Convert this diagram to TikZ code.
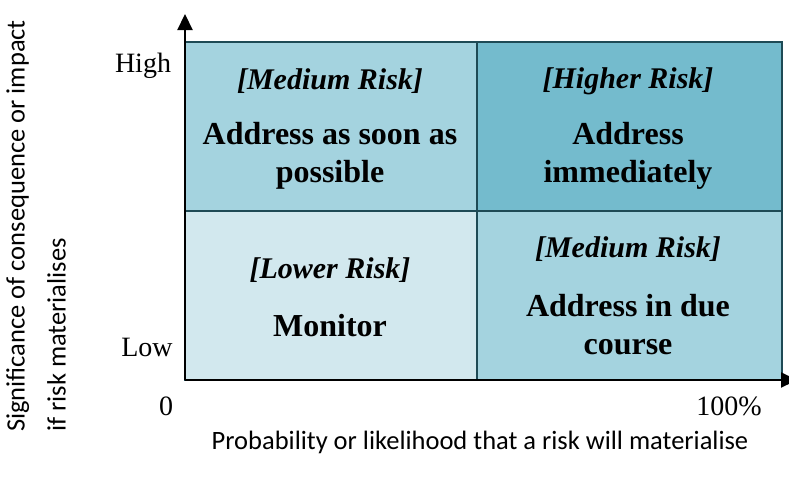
\documentclass[tikz,border=0pt]{standalone}
\usepackage{fontspec}
\setmainfont{Liberation Serif}
\newfontfamily\axisfont{Carlito}
\usetikzlibrary{arrows.meta}
\definecolor{cmed}{HTML}{A4D3DF}
\definecolor{chigh}{HTML}{74BBCD}
\definecolor{clow}{HTML}{D2E8EE}
\definecolor{cedge}{HTML}{1E4A55}
\tikzset{
  cell/.style={draw=cedge, line width=1.6pt},
  cap1/.style={font=\fontsize{30}{34}\selectfont\bfseries\itshape, anchor=center},
  act/.style={font=\fontsize{32}{38}\selectfont\bfseries, align=center, anchor=center},
  tick/.style={font=\fontsize{28}{30}\selectfont, anchor=center},
  axl/.style={font=\axisfont\fontsize{26.5}{41}\selectfont, align=left},
  axis/.style={line width=2.2pt, -{Triangle[length=16pt,width=15pt]}}
}
\begin{document}
\begin{tikzpicture}[x=1pt,y=-1pt]
\useasboundingbox (0,0) rectangle (789,482);
\clip (0,0) rectangle (789,482);
\fill[cmed] (185,42) rectangle (477,211);
\fill[chigh] (477,42) rectangle (782,211);
\fill[clow] (185,211) rectangle (477,380);
\fill[cmed] (477,211) rectangle (782,380);
\draw[cell] (185,42) rectangle (782,380);
\draw[cell] (477,42) -- (477,380);
\draw[cell] (185,211) -- (782,211);
\coordinate (o) at (185,380);
\coordinate (ytip) at (185,14);
\coordinate (xtip) at (797,380);
\draw[axis] (o) -- (ytip);
\draw[axis] (o) -- (xtip);
\node[cap1] (m1) at (330,81) {[Medium Risk]};
\node[act] (a1) at (330,156) {Address as soon as\\possible};
\node[cap1] (h1) at (628,81) {[Higher Risk]};
\node[act] (a2) at (628,156) {Address\\immediately};
\node[cap1] (l1) at (330,270) {[Lower Risk]};
\node[act] (a3) at (330,326) {Monitor};
\node[cap1] (m2) at (628,249) {[Medium Risk]};
\node[act] (a4) at (628,325) {Address in due\\course};
\node[tick] (hi) at (143,66) {High};
\node[tick] (lo) at (147,347) {Low};
\node[tick] (z) at (166,406) {0};
\node[tick] (hp) at (729,406) {100\%};
\node[axl, anchor=center] (xl) at (480,442) {Probability or likelihood that a risk will materialise};
\node[axl, rotate=90, anchor=north west, inner sep=0pt] (yl) at (6,432) {Significance of consequence or impact\\if risk materialises};
\end{tikzpicture}
\end{document}
